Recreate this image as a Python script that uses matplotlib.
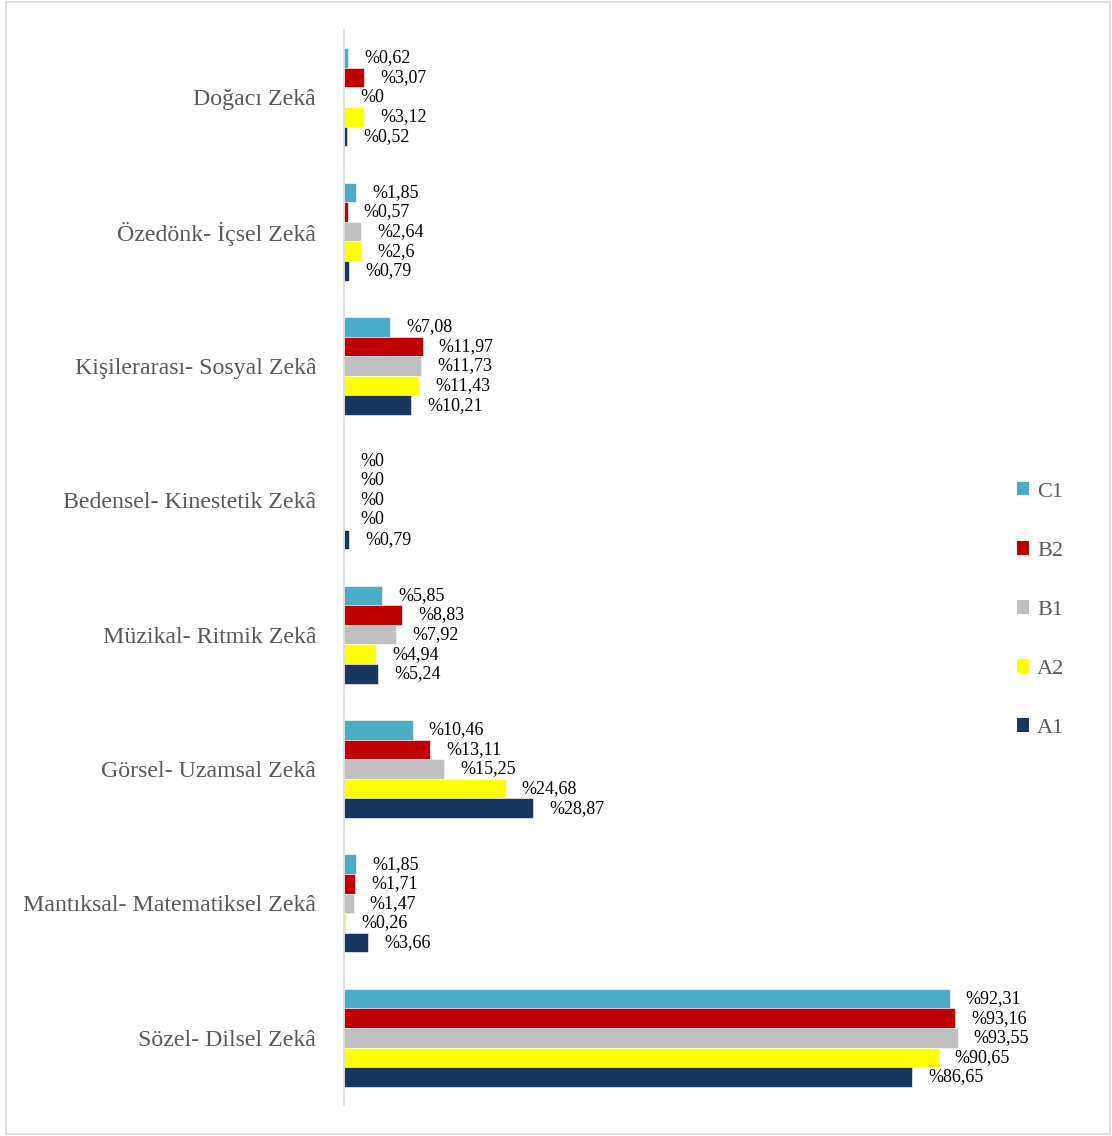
import matplotlib
matplotlib.use("Agg")
import matplotlib.pyplot as plt
from matplotlib.patches import Rectangle, Patch
import numpy as np

plt.rcParams['font.family'] = ['Liberation Serif', 'DejaVu Serif']

categories = ["Doğacı Zekâ", "Özedönk- İçsel Zekâ", "Kişilerarası- Sosyal Zekâ",
              "Bedensel- Kinestetik Zekâ", "Müzikal- Ritmik Zekâ", "Görsel- Uzamsal Zekâ",
              "Mantıksal- Matematiksel Zekâ", "Sözel- Dilsel Zekâ"]
series_names = ["C1", "B2", "B1", "A2", "A1"]
C1 = [0.62, 1.85, 7.08, 0, 5.85, 10.46, 1.85, 92.31]
B2 = [3.07, 0.57, 11.97, 0, 8.83, 13.11, 1.71, 93.16]
B1 = [0, 2.64, 11.73, 0, 7.92, 15.25, 1.47, 93.55]
A2 = [3.12, 2.6, 11.43, 0, 4.94, 24.68, 0.26, 90.65]
A1 = [0.52, 0.79, 10.21, 0.79, 5.24, 28.87, 3.66, 86.65]
colors = ["#4BACC6", "#C00000", "#BFBFBF", "#FFFF00", "#17375E"]

data = [C1, B2, B1, A2, A1]

fig = plt.figure(figsize=(11.12, 11.36), dpi=100)
fig.patches.append(Rectangle((0.005, 0.002), 0.993, 0.996, transform=fig.transFigure,
                             fill=False, edgecolor="#D9D9D9", linewidth=1.2))
ax = fig.add_axes([344/1112, 1-1105/1136, (1000-344)/1112, (1105-30)/1136])

n = len(categories)
h = 0.146
y = np.arange(n)
for k, (vals, c, name) in enumerate(zip(data, colors, series_names)):
    yy = y + (k - 2) * h
    ax.barh(yy, vals, height=h, color=c, label=name, edgecolor="white", linewidth=0.4)
    for yi, v in zip(yy, vals):
        txt = ("%" + f"{v:g}").replace(".", ",")
        ax.annotate(txt, xy=(v, yi), xytext=(11.5, 0), textcoords="offset points",
                    ha="left", va="center", fontsize=13, color="#000000")

ax.set_xlim(0, 100)
ax.set_ylim(n - 0.5, -0.5)
ax.set_yticks(y)
ax.set_yticklabels(categories, fontsize=17.2, color="#595959")
ax.tick_params(axis="y", length=0, pad=20)
ax.set_xticks([])
for s in ["top", "right", "bottom"]:
    ax.spines[s].set_visible(False)
ax.spines["left"].set_color("#D9D9D9")
ax.spines["left"].set_linewidth(1.2)

handles = [Patch(facecolor=c, edgecolor="none") for c in colors]
leg = fig.legend(handles, series_names, loc="center left",
                 bbox_to_anchor=(1006/1112, 1-610/1136), frameon=False,
                 fontsize=16, labelspacing=1.78, handlelength=0.55, handleheight=0.55,
                 handletextpad=0.35, borderpad=0)
for t in leg.get_texts():
    t.set_color("#595959")

fig.savefig("out.png", dpi=100)
